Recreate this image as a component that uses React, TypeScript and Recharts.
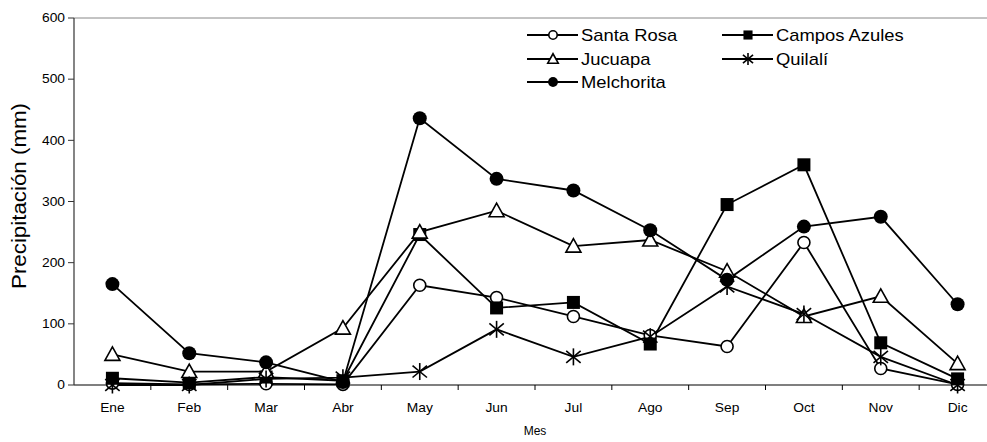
import React from 'react';
import { LineChart, Line, XAxis, YAxis, ReferenceLine } from 'recharts';

const meses = ['Ene', 'Feb', 'Mar', 'Abr', 'May', 'Jun', 'Jul', 'Ago', 'Sep', 'Oct', 'Nov', 'Dic'];
const santaRosa = [3, 1, 2, 1, 163, 143, 112, 81, 63, 233, 27, 1];
const camposAzules = [11, 4, 13, 7, 246, 126, 135, 67, 295, 360, 69, 10];
const jucuapa = [50, 22, 22, 93, 250, 285, 227, 237, 186, 112, 145, 35];
const quilali = [0, 0, 10, 12, 22, 91, 46, 79, 161, 116, 46, 0];
const melchorita = [165, 52, 37, 5, 436, 337, 318, 253, 172, 259, 275, 132];
const yTicks = [0, 100, 200, 300, 400, 500, 600];

const data = meses.map((mes, i) => ({
  mes,
  santaRosa: santaRosa[i],
  camposAzules: camposAzules[i],
  jucuapa: jucuapa[i],
  quilali: quilali[i],
  melchorita: melchorita[i],
}));

type Kind = 'openCircle' | 'square' | 'triangle' | 'star' | 'dot';

const series: { key: string; name: string; kind: Kind }[] = [
  { key: 'santaRosa', name: 'Santa Rosa', kind: 'openCircle' },
  { key: 'camposAzules', name: 'Campos Azules', kind: 'square' },
  { key: 'jucuapa', name: 'Jucuapa', kind: 'triangle' },
  { key: 'quilali', name: 'Quilalí', kind: 'star' },
  { key: 'melchorita', name: 'Melchorita', kind: 'dot' },
];

// the source image is a bit wider than tall, text is stretched to match
const STRETCH = 1.15;
const FONT = 'Arial, "Liberation Sans", sans-serif';
const BAND = 922 / meses.length;

function Marker({ kind, cx, cy, s = 1 }: { kind: Kind; cx: number; cy: number; s?: number }) {
  if (cx == null || cy == null) return null;
  switch (kind) {
    case 'openCircle':
      return <circle cx={cx} cy={cy} r={6 * s} fill="#fff" stroke="#000" strokeWidth={1.6} />;
    case 'square':
      return <rect x={cx - 6.5 * s} y={cy - 6.5 * s} width={13 * s} height={13 * s} fill="#000" />;
    case 'triangle':
      return (
        <polygon
          points={`${cx},${cy - 7.5 * s} ${cx - 7.5 * s},${cy + 6 * s} ${cx + 7.5 * s},${cy + 6 * s}`}
          fill="#fff"
          stroke="#000"
          strokeWidth={1.6}
        />
      );
    case 'star': {
      const r = 8.5 * s;
      const dx = r * 0.85;
      const dy = r * 0.7;
      return (
        <g stroke="#000" strokeWidth={1.6}>
          <line x1={cx} y1={cy - r} x2={cx} y2={cy + r} />
          <line x1={cx - dx} y1={cy - dy} x2={cx + dx} y2={cy + dy} />
          <line x1={cx - dx} y1={cy + dy} x2={cx + dx} y2={cy - dy} />
        </g>
      );
    }
    default:
      return <circle cx={cx} cy={cy} r={7 * s} fill="#000" />;
  }
}

function XTick(props: any) {
  const { x, y, payload, index } = props;
  const half = BAND / 2;
  return (
    <g>
      {index < meses.length - 1 && (
        <line x1={x + half} y1={y} x2={x + half} y2={y + 5} stroke="#000" strokeWidth={1} />
      )}
      <text
        transform={`translate(${x},${y + 27}) scale(${STRETCH},1)`}
        textAnchor="middle"
        fontSize={12}
        fontFamily={FONT}
        fill="#000"
      >
        {payload.value}
      </text>
    </g>
  );
}

function YTick(props: any) {
  const { x, y, payload } = props;
  return (
    <text
      transform={`translate(${x},${y}) scale(${STRETCH},1)`}
      textAnchor="end"
      dy="0.35em"
      fontSize={12}
      fontFamily={FONT}
      fill="#000"
    >
      {payload.value}
    </text>
  );
}

const legendPos = [
  { x: 527, y: 35 },
  { x: 722, y: 35 },
  { x: 527, y: 59 },
  { x: 722, y: 59 },
  { x: 527, y: 82 },
];

function ChartLegend() {
  return (
    <svg width={987} height={100} style={{ position: 'absolute', left: 0, top: 0 }}>
      {series.map((s, i) => {
        const p = legendPos[i];
        return (
          <g key={s.key}>
            <line x1={p.x} y1={p.y} x2={p.x + 51} y2={p.y} stroke="#000" strokeWidth={1.8} />
            <Marker kind={s.kind} cx={p.x + 26} cy={p.y} s={0.7} />
            <text
              transform={`translate(${p.x + 54},${p.y}) scale(${STRETCH},1)`}
              dy="0.36em"
              fontSize={16}
              fontFamily={FONT}
              fill="#000"
            >
              {s.name}
            </text>
          </g>
        );
      })}
    </svg>
  );
}

export default function App() {
  return (
    <div style={{ position: 'absolute', left: 0, top: 0, width: 987, height: 442, overflow: 'hidden', background: '#fff' }}>
      <LineChart width={1000} height={442} data={data} margin={{ top: 18, right: 4, left: 0, bottom: 27 }}>
        <XAxis
          dataKey="mes"
          scale="band"
          height={30}
          interval={0}
          tickLine={false}
          tickSize={0}
          tickMargin={0}
          axisLine={{ stroke: '#000', strokeWidth: 1.2 }}
          tick={<XTick />}
          label={{ value: 'Mes', position: 'insideBottom', offset: -20, fontSize: 12, fontFamily: FONT, fill: '#000' }}
        />
        <YAxis
          width={74}
          domain={[0, 600]}
          ticks={yTicks}
          interval={0}
          tickSize={6}
          tickMargin={3}
          axisLine={{ stroke: '#333', strokeWidth: 1.2 }}
          tickLine={{ stroke: '#333' }}
          tick={<YTick />}
        />
        <ReferenceLine y={600} stroke="#888" strokeWidth={1} ifOverflow="visible" />
        {series.map((s) => (
          <Line
            key={s.key}
            dataKey={s.key}
            name={s.name}
            type="linear"
            stroke="#000"
            strokeWidth={1.8}
            isAnimationActive={false}
            activeDot={false}
            dot={(p: any) => <Marker key={`${s.key}-${p.index}`} kind={s.kind} cx={p.cx} cy={p.cy} />}
          />
        ))}
        <text
          x={0}
          y={0}
          transform="translate(26,196) rotate(-90)"
          textAnchor="middle"
          fontSize={20}
          fontFamily={FONT}
          textLength={186}
          lengthAdjust="spacingAndGlyphs"
          fill="#000"
        >
          Precipitación (mm)
        </text>
      </LineChart>
      <ChartLegend />
    </div>
  );
}
